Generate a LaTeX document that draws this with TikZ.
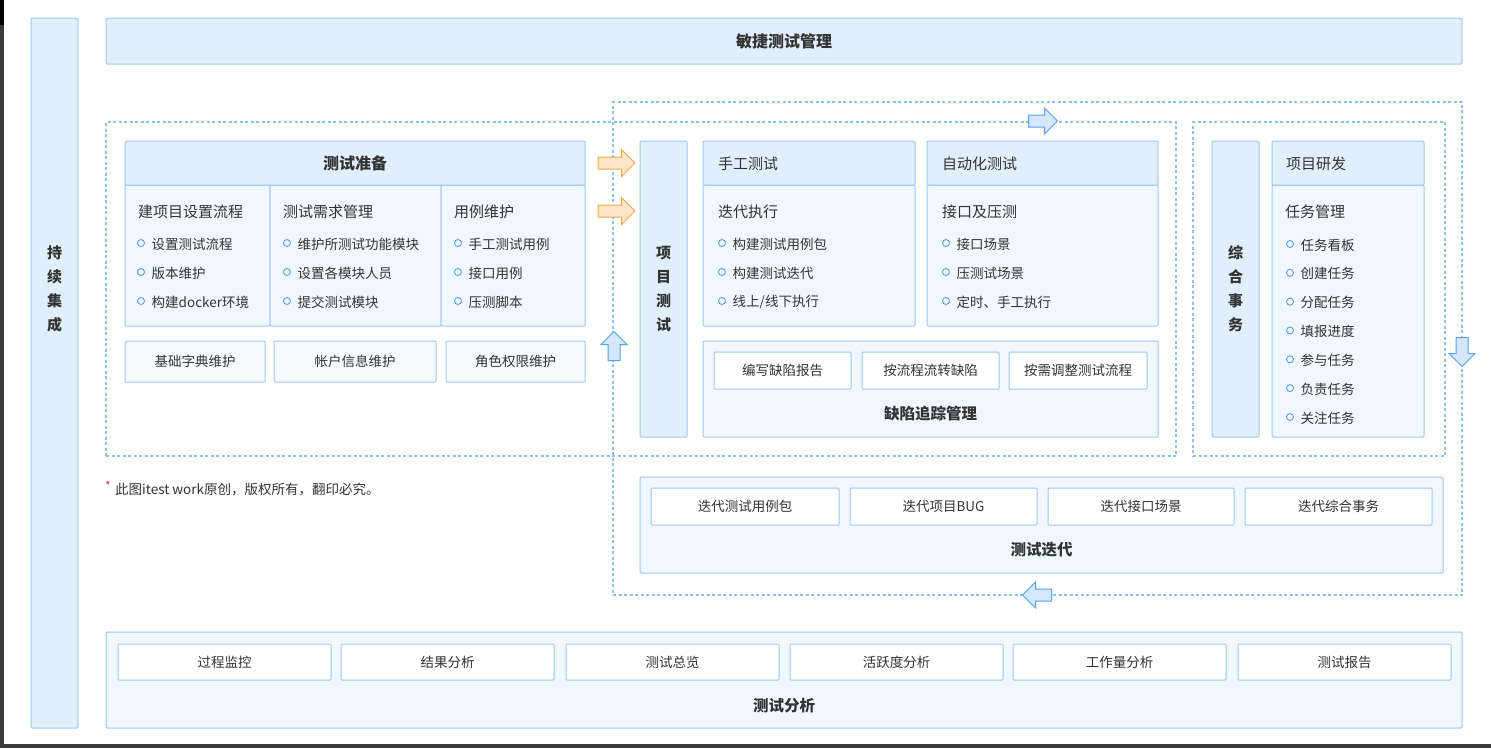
\documentclass[tikz,border=0pt]{standalone}
\usepackage{fontspec}
\setmainfont{Noto Sans CJK SC}
\usetikzlibrary{shapes.arrows}
\definecolor{bord}{HTML}{9CC9F2}
\definecolor{hdr}{HTML}{E1EFFD}
\definecolor{bodyc}{HTML}{F1F7FE}
\definecolor{lite}{HTML}{F6FAFF}
\definecolor{dashc}{HTML}{8DC1EE}
\definecolor{txt}{HTML}{333333}
\definecolor{bulc}{HTML}{5B9FE6}
\definecolor{orgD}{HTML}{F2A64A}
\definecolor{orgF}{HTML}{FDE6C6}
\definecolor{bluD}{HTML}{5AA2EA}
\definecolor{bluF}{HTML}{D5E8FB}
\definecolor{scr}{HTML}{3A3A3A}
\definecolor{redc}{HTML}{E8303A}
\newcommand\mkbox[7]{\node[#1, minimum width={(#5-#3)*1pt}, minimum height={(#6-#4)*1pt}] (#2) at ({(#3+#5)/2},{(#4+#6)/2}) {#7};}
\tikzset{
  bx/.style={draw=bord, line width=1pt, inner sep=0pt, text=txt, font=\fontsize{13.5}{15}\selectfont, rounded corners=1pt},
  hbx/.style={bx, fill=hdr},
  wbx/.style={bx, fill=white},
  bbx/.style={bx, fill=bodyc},
  lbx/.style={bx, fill=lite},
  dbox/.style={draw=dashc, line width=1.1pt, dash pattern=on 3pt off 2.5pt, inner sep=0pt},
  ttl/.style={anchor=west, text=txt, font=\fontsize{15}{18}\selectfont, inner sep=0pt, yshift=-1pt},
  btl/.style={text=txt, font=\bfseries\fontsize{15.5}{18}\selectfont, inner sep=0pt, yshift=-1pt},
  vtxt/.style={text=txt, font=\bfseries\fontsize{15}{24}\selectfont, align=center, inner sep=0pt},
  bulx/.style={circle, draw=bulc, line width=0.9pt, minimum size=7pt, inner sep=0pt},
  btxt/.style={anchor=west, text=txt, font=\fontsize{13.5}{15}\selectfont, inner sep=0pt, yshift=-1pt},
  arrO/.style={single arrow, draw=orgD, fill=orgF, line width=1pt, inner sep=5.5pt, single arrow head extend=7.5pt, minimum height=37pt},
  arrB/.style={single arrow, draw=bluD, fill=bluF, line width=1pt, inner sep=5.5pt, single arrow head extend=7pt, minimum height=29pt},
}
\begin{document}
\begin{tikzpicture}[x=1pt,y=-1pt]
\useasboundingbox (0,0) rectangle (1491,748);
\fill[white] (0,0) rectangle (1491,748);
% screen edges
\fill[scr] (0,0) rectangle (4,748);
\fill[black] (0,0) rectangle (4,25);
\fill[scr] (0,744) rectangle (1491,748);

% dashed groups
\mkbox{dbox}{loop}{613}{102}{1462}{595}{}
\mkbox{dbox}{gl}{106}{122}{1176}{456}{}
\mkbox{dbox}{gr}{1193}{122}{1445}{456}{}

% left column and top bar
\mkbox{hbx}{ci}{31}{18}{78}{728}{}
\node[vtxt] (citxt) at (54.5,289) {持\\续\\集\\成};
\mkbox{hbx,font=\bfseries\fontsize{16}{18}\selectfont}{top}{106}{18}{1462}{64}{敏捷测试管理}

% 测试准备
\mkbox{bbx}{c1}{125}{185}{270}{326}{}
\mkbox{bbx}{c2}{270}{185}{441}{326}{}
\mkbox{bbx}{c3}{441}{185}{585}{326}{}
\mkbox{hbx,font=\bfseries\fontsize{16}{18}\selectfont}{prep}{125}{141}{585}{185}{测试准备}
\node[ttl] (c1h) at (138,211) {建项目设置流程};
\node[ttl] (c2h) at (283,211) {测试需求管理};
\node[ttl] (c3h) at (454,211) {用例维护};
\foreach \t [count=\i] in {设置测试流程,版本维护,构建docker环境}{
  \node[bulx] (c1b\i) at (141,{243+29*(\i-1)}) {};
  \node[btxt] (c1t\i) at (151.5,{243+29*(\i-1)}) {\t};}
\foreach \t [count=\i] in {维护所测试功能模块,设置各模块人员,提交测试模块}{
  \node[bulx] (c2b\i) at (287,{243+29*(\i-1)}) {};
  \node[btxt] (c2t\i) at (297.5,{243+29*(\i-1)}) {\t};}
\foreach \t [count=\i] in {手工测试用例,接口用例,压测脚本}{
  \node[bulx] (c3b\i) at (458,{243+29*(\i-1)}) {};
  \node[btxt] (c3t\i) at (468.5,{243+29*(\i-1)}) {\t};}
\mkbox{lbx}{p1}{125}{341}{265}{382}{基础字典维护}
\mkbox{lbx}{p2}{274}{341}{436}{382}{帐户信息维护}
\mkbox{lbx}{p3}{446}{341}{585}{382}{角色权限维护}

% arrows
\node[arrO] (oa1) at (613.5,163) {};
\node[arrO] (oa2) at (613.5,211) {};
\node[arrB, rotate=90] (ua) at (614,349) {};
\node[arrB] (ra) at (1040,121) {};
\node[arrB, rotate=-90] (da) at (1462,349) {};
\node[arrB, rotate=180] (la) at (1040,595) {};

% 项目测试
\mkbox{hbx,font=\bfseries\fontsize{15}{24}\selectfont,align=center}{xm}{640}{141}{687}{437}{项\\目\\测\\试}
\mkbox{bbx}{sg}{703}{185}{915}{326}{}
\mkbox{hbx}{sgh}{703}{141}{915}{185}{}
\node[ttl] (sght) at (718,163) {手工测试};
\node[ttl] (sgt) at (718,211) {迭代执行};
\foreach \t [count=\i] in {构建测试用例包,构建测试迭代,线上/线下执行}{
  \node[bulx] (sb\i) at (722,{243+29*(\i-1)}) {};
  \node[btxt] (st\i) at (732.5,{243+29*(\i-1)}) {\t};}
\mkbox{bbx}{zd}{927}{185}{1158}{326}{}
\mkbox{hbx}{zdh}{927}{141}{1158}{185}{}
\node[ttl] (zdht) at (942,163) {自动化测试};
\node[ttl] (zdt) at (942,211) {接口及压测};
\foreach \t [count=\i] in {接口场景,压测试场景,定时、手工执行}{
  \node[bulx] (zb\i) at (946,{243+29*(\i-1)}) {};
  \node[btxt] (zt\i) at (956.5,{243+29*(\i-1)}) {\t};}
\mkbox{bbx}{qx}{703}{341}{1158}{437}{}
\mkbox{wbx}{q1}{714}{352}{851}{389}{编写缺陷报告}
\mkbox{wbx}{q2}{862}{352}{999}{389}{按流程流转缺陷}
\mkbox{wbx}{q3}{1009}{352}{1147}{389}{按需调整测试流程}
\node[btl] (qxt) at (930.5,413) {缺陷追踪管理};

% 综合事务
\mkbox{hbx,font=\bfseries\fontsize{15}{24}\selectfont,align=center}{zh}{1212}{141}{1259}{437}{综\\合\\事\\务}
\mkbox{bbx}{yf}{1272}{185}{1424}{437}{}
\mkbox{hbx}{yfh}{1272}{141}{1424}{185}{}
\node[ttl] (yfht) at (1286,163) {项目研发};
\node[ttl] (yft) at (1285,211) {任务管理};
\foreach \t [count=\i] in {任务看板,创建任务,分配任务,填报进度,参与任务,负责任务,关注任务}{
  \node[bulx] (yb\i) at (1290,{244+28.83*(\i-1)}) {};
  \node[btxt] (yt\i) at (1300.5,{244+28.83*(\i-1)}) {\t};}

% 测试迭代
\mkbox{bbx}{dd}{640}{477}{1443}{573}{}
\mkbox{wbx}{d1}{651}{488}{839}{525}{迭代测试用例包}
\mkbox{wbx}{d2}{850}{488}{1037}{525}{迭代项目BUG}
\mkbox{wbx}{d3}{1048}{488}{1234}{525}{迭代接口场景}
\mkbox{wbx}{d4}{1245}{488}{1432}{525}{迭代综合事务}
\node[btl] (ddt) at (1041.5,549) {测试迭代};

% note
\node[anchor=west, inner sep=0pt, text=redc, font=\fontsize{12}{14}\selectfont] (star) at (105,486) {*};
\node[anchor=west, inner sep=0pt, text=txt, font=\fontsize{13.5}{15}\selectfont, yshift=-1pt] (note) at (115,488) {此图itest work原创，版权所有，翻印必究。};

% 测试分析
\mkbox{bbx}{fx}{106}{632}{1462}{728}{}
\mkbox{wbx}{f1}{118}{644}{331}{680}{过程监控}
\mkbox{wbx}{f2}{341}{644}{554}{680}{结果分析}
\mkbox{wbx}{f3}{566}{644}{779}{680}{测试总览}
\mkbox{wbx}{f4}{790}{644}{1003}{680}{活跃度分析}
\mkbox{wbx}{f5}{1013}{644}{1226}{680}{工作量分析}
\mkbox{wbx}{f6}{1238}{644}{1451}{680}{测试报告}
\node[btl] (fxt) at (784,705) {测试分析};
\end{tikzpicture}
\end{document}
